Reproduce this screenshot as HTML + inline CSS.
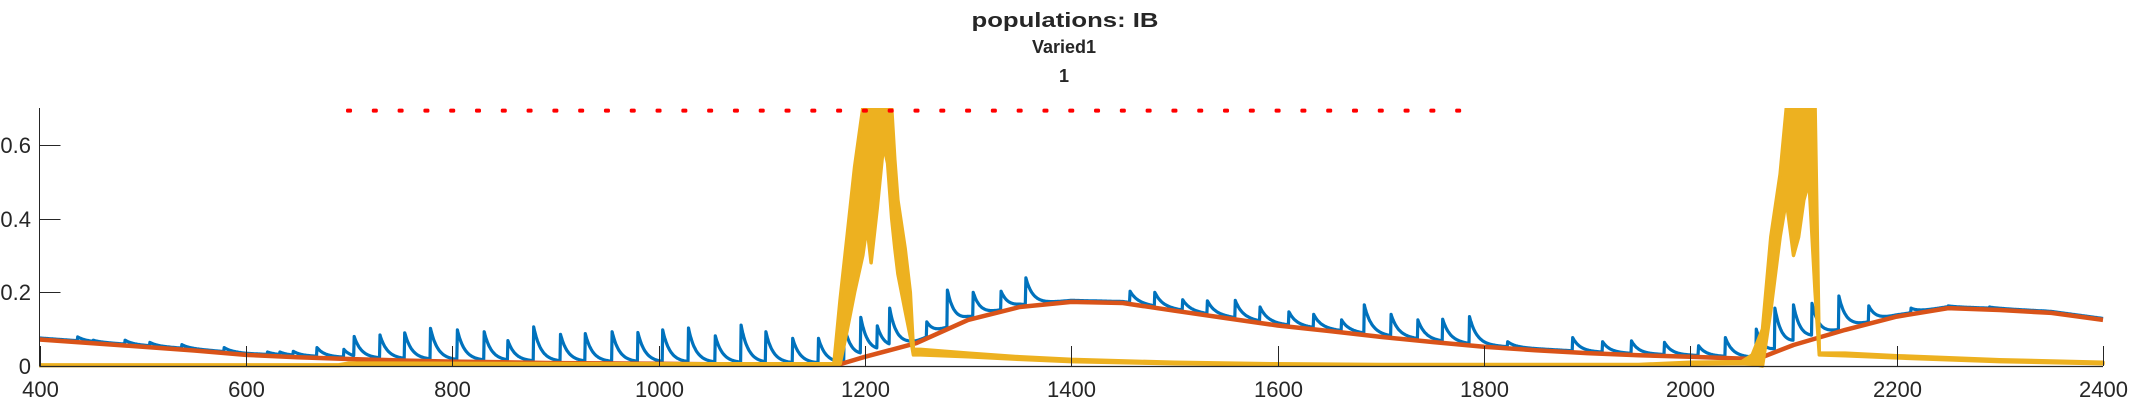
<!DOCTYPE html>
<html><head><meta charset="utf-8"><style>
html,body{margin:0;padding:0;background:#fff;}
svg{display:block;}
text{font-family:"Liberation Sans",Arial,sans-serif;fill:#262626;}
</style></head><body>
<svg id="chart" width="2133" height="400" viewBox="0 0 2133 400" xmlns="http://www.w3.org/2000/svg">
<defs><clipPath id="plotClip"><rect x="39" y="108" width="2066" height="262"/></clipPath></defs>
<text x="1065" y="27" text-anchor="middle" font-size="20" font-weight="bold" textLength="187" lengthAdjust="spacingAndGlyphs">populations: IB</text>
<text x="1064" y="53" text-anchor="middle" font-size="18" font-weight="bold">Varied1</text>
<text x="1064" y="82" text-anchor="middle" font-size="18" font-weight="bold">1</text>
<g id="marks" clip-path="url(#plotClip)"></g>
<g id="axes"></g>
</svg>
<script>
// ---- data ----
const xTicks = [400,600,800,1000,1200,1400,1600,1800,2000,2200,2400];
const yTicks = [0,0.2,0.4,0.6];
const yTickLabels = ["0","0.2","0.4","0.6"];
// orange (slow variable)
const orangeT = [400,450,500,550,600,650,700,750,800,850,900,950,1000,1050,1100,1150,1175,1200,1250,1300,1350,1400,1450,1500,1550,1600,1650,1700,1750,1800,1850,1900,1950,2000,2050,2065,2100,2150,2200,2250,2300,2350,2400];
const orangeV = [0.072,0.062,0.052,0.042,0.030,0.024,0.019,0.015,0.012,0.010,0.008,0.007,0.006,0.005,0.004,0.003,0.004,0.025,0.062,0.125,0.160,0.174,0.171,0.150,0.130,0.110,0.095,0.079,0.065,0.052,0.043,0.035,0.029,0.025,0.020,0.019,0.057,0.098,0.134,0.157,0.152,0.144,0.125];
// blue spikes: times and peak values
const spikeT = [437,452,483,507,538,579,621,633,646,669,695,705,730,754,779,805,831,854,879,905,929,955,980,1004,1029,1055,1080,1104,1130,1155,1180,1196,1212,1224,1260,1280,1305,1332,1356,1457,1481,1508,1532,1559,1583,1611,1635,1662,1684,1710,1736,1760,1786,1823,1886,1915,1943,1975,2008,2034,2064,2082,2100,2118,2144,2173,2214,2250,2290,2340];
const spikeV = [0.079,0.070,0.070,0.064,0.058,0.050,0.038,0.038,0.040,0.050,0.045,0.080,0.084,0.090,0.102,0.098,0.093,0.069,0.106,0.086,0.088,0.093,0.091,0.098,0.103,0.082,0.111,0.093,0.075,0.075,0.110,0.132,0.109,0.157,0.120,0.206,0.200,0.203,0.239,0.203,0.200,0.180,0.177,0.178,0.160,0.147,0.140,0.125,0.166,0.140,0.125,0.127,0.134,0.066,0.077,0.066,0.068,0.064,0.055,0.077,0.100,0.157,0.166,0.170,0.190,0.163,0.157,0.163,0.160,0.150];
// yellow: upper / lower envelopes
const yellowT  = [400,690,700,1000,1170,1176,1183,1190,1198,1202,1206,1212,1218,1222,1226,1229,1232,1239,1244,1247,1254,1300,1350,1400,1500,1600,1700,1950,2000,2050,2060,2070,2078,2087,2093,2100,2105,2110,2115,2121,2125,2150,2200,2300,2400];
const yellowHi = [0.003,0.003,0.008,0.006,0.006,0.180,0.360,0.540,0.700,0.700,0.700,0.700,0.700,0.700,0.700,0.560,0.450,0.320,0.200,0.045,0.045,0.035,0.025,0.018,0.010,0.006,0.004,0.004,0.010,0.012,0.030,0.100,0.350,0.520,0.700,0.700,0.700,0.700,0.700,0.700,0.035,0.035,0.028,0.017,0.010];
const yellowLo = [0.001,0.001,0.003,0.002,0.002,0.005,0.100,0.200,0.300,0.380,0.280,0.430,0.600,0.550,0.400,0.320,0.250,0.150,0.080,0.030,0.030,0.025,0.018,0.012,0.006,0.003,0.002,0.002,0.005,0.006,0.005,0.000,0.150,0.350,0.450,0.300,0.350,0.450,0.500,0.200,0.030,0.028,0.022,0.012,0.006];
// red dotted reference line
const refLevel = 0.693;
const refStart = 700, refEnd = 1778, refStep = 25;

// ---- scales ----
const X0=400,X1=2400,PX0=39.5,PX1=2103;
const Y0=0,Y1=0.7,PY0=366,PY1=108;
const sx = v => PX0 + (v-X0)/(X1-X0)*(PX1-PX0);
const sy = v => PY0 - (v-Y0)/(Y1-Y0)*(PY0-PY1);
const NS='http://www.w3.org/2000/svg';
const marks=document.getElementById('marks'), axes=document.getElementById('axes');
function mk(tag, attrs, parent){const e=document.createElementNS(NS,tag);for(const k in attrs)e.setAttribute(k,attrs[k]);parent.appendChild(e);return e;}
function interp(ts, vs, t){
  if(t<=ts[0])return vs[0];
  for(let i=1;i<ts.length;i++){ if(t<=ts[i]){const f=(t-ts[i-1])/(ts[i]-ts[i-1]);return vs[i-1]+f*(vs[i]-vs[i-1]);} }
  return vs[vs.length-1];
}

// blue trace: spikes decaying toward the slow variable
let bd='';
const tau=7;
let si=-1;
for(let t=400;t<=2400;t+=0.5){
  while(si+1<spikeT.length && spikeT[si+1]<=t) si++;
  const base=interp(orangeT,orangeV,t)+0.004;
  let v=base;
  if(si>=0){const t0=spikeT[si];const b0=interp(orangeT,orangeV,t0)+0.004;v=base+Math.max(0,spikeV[si]-b0)*Math.exp(-(t-t0)/tau);}
  bd+=(bd?'L':'M')+sx(t).toFixed(1)+' '+sy(v).toFixed(1);
}
const blue=mk('path',{d:bd,fill:'none',stroke:'#0072BD','stroke-width':3.2,'stroke-linejoin':'round'},marks);



// orange
let od='';
orangeT.forEach((t,i)=>{od+=(i?'L':'M')+sx(t).toFixed(1)+' '+sy(orangeV[i]).toFixed(1);});
const orange=mk('path',{d:od,fill:'none',stroke:'#D95319','stroke-width':4.5,'stroke-linejoin':'round'},marks);



// yellow band
let yd='';
yellowT.forEach((t,i)=>{yd+=(i?'L':'M')+sx(t).toFixed(1)+' '+sy(yellowHi[i]).toFixed(1);});
for(let i=yellowT.length-1;i>=0;i--){yd+='L'+sx(yellowT[i]).toFixed(1)+' '+sy(yellowLo[i]).toFixed(1);}
yd+='Z';
const yellow=mk('path',{d:yd,fill:'#EDB120',stroke:'#EDB120','stroke-width':3.5,'stroke-linejoin':'round'},marks);



// red dotted line
for(let t=refStart;t<=refEnd;t+=refStep){
  const d=mk('rect',{x:sx(t)-3,y:sy(refLevel)-2,width:6,height:4,rx:1.5,fill:'#FF0000'},axes);
  
  
}

// axes
const yAxis=mk('line',{x1:PX0,y1:PY1,x2:PX0,y2:PY0,stroke:'#262626','stroke-width':1},axes);


const xAxis=mk('line',{x1:PX0,y1:PY0+0.5,x2:PX1,y2:PY0+0.5,stroke:'#262626','stroke-width':1.2},axes);


xTicks.forEach(v=>{
  const x=Math.round(sx(v))+0.5;
  const tk=mk('line',{x1:x,y1:PY0,x2:x,y2:PY0-20,stroke:'#262626','stroke-width':1},axes);
  
  
  const lb=mk('text',{x:x,y:397,'text-anchor':'middle','font-size':22},axes);
  lb.textContent=String(v);
  
  
});
yTicks.forEach((v,i)=>{
  const y=Math.round(sy(v))+0.5;
  const tk=mk('line',{x1:PX0,y1:y,x2:PX0+21,y2:y,stroke:'#262626','stroke-width':1},axes);
  
  
  const lb=mk('text',{x:31,y:y+7.5,'text-anchor':'end','font-size':22},axes);
  lb.textContent=yTickLabels[i];
  
  
});
</script>
</body></html>
